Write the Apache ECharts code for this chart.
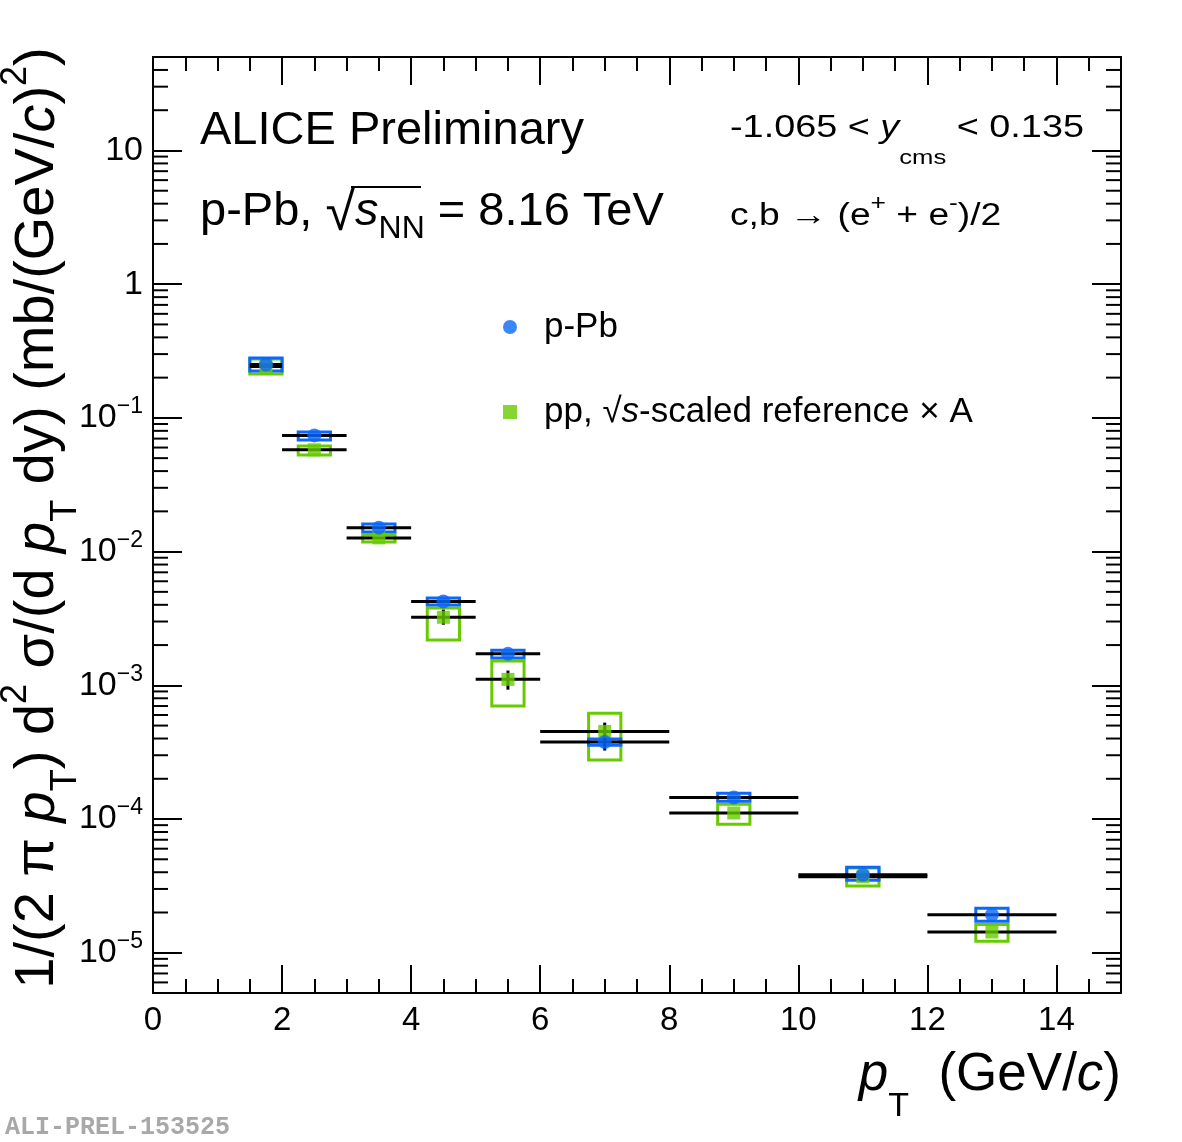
<!DOCTYPE html>
<html>
<head>
<meta charset="utf-8">
<script src="https://cdn.jsdelivr.net/npm/echarts@6/dist/echarts.min.js"></script>
<style>
  html, body { margin: 0; padding: 0; background: #fff; }
  #chart { width: 1182px; height: 1142px; }
</style>
</head>
<body>
<div id="chart"></div>
<script>
// pT bins (GeV/c)
const ptCenter = [1.75, 2.5, 3.5, 4.5, 5.5, 7, 9, 11, 13];
const ptLow    = [1.5, 2, 3, 4, 5, 6, 8, 10, 12];
const ptHigh   = [2, 3, 4, 5, 6, 8, 10, 12, 14];

// p-Pb cross section, mb/(GeV/c)^2
const pPbVal    = [0.251, 0.074, 0.0151, 0.00423, 0.00172, 3.77e-4, 1.45e-4, 3.83e-5, 1.925e-5];
const pPbSysLo  = [0.224, 0.0683, 0.0140, 0.00398, 0.00160, 3.57e-4, 1.36e-4, 3.49e-5, 1.72e-5];
const pPbSysHi  = [0.280, 0.0784, 0.0161, 0.00449, 0.00183, 3.96e-4, 1.56e-4, 4.36e-5, 2.15e-5];
const pPbStatLo = [null, null, null, null, null, 3.25e-4, null, null, null];
const pPbStatHi = [null, null, null, null, null, 4.38e-4, null, null, null];

// pp reference x A
const ppVal    = [0.242, 0.0577, 0.01266, 0.003226, 0.001108, 4.52e-4, 1.11e-4, 3.70e-5, 1.43e-5];
const ppSysLo  = [0.213, 0.0527, 0.0118, 0.00218, 6.99e-4, 2.76e-4, 9.15e-5, 3.15e-5, 1.22e-5];
const ppSysHi  = [0.276, 0.0616, 0.0133, 0.00378, 1.52e-3, 6.19e-4, 1.29e-4, 4.30e-5, 1.63e-5];
const ppStatLo = [null, null, null, 2.84e-3, 9.28e-4, 3.92e-4, null, null, null];
const ppStatHi = [null, null, null, 3.68e-3, 1.29e-3, 5.26e-4, null, null, null];

const X_MIN = 0, X_MAX = 15;
const Y_MIN = 5e-6, Y_MAX = 50;

const FONT = '"Liberation Sans", Arial, sans-serif';
const BLUE = '#0b68fb';
const GREEN = '#66cc00';
const BOX_HALF = 0.25;

// log minor ticks 2..9 x 10^n
const yMinorTicks = [];
for (let e = -6; e <= 1; e++) {
    for (let m = 2; m <= 9; m++) {
        const v = m * Math.pow(10, e);
        if (v > Y_MIN && v < Y_MAX) yMinorTicks.push(v);
    }
}

const chart = echarts.init(document.getElementById('chart'));

function sysBoxes(name, lo, hi, color, z) {
    return {
        type: 'custom', name: name, z: z, silent: true,
        data: ptCenter.map((x, i) => [x, lo[i], hi[i]]),
        encode: { x: 0, y: [1, 2] },
        renderItem: (params, api) => {
            const a = api.coord([api.value(0) - BOX_HALF, api.value(2)]);
            const b = api.coord([api.value(0) + BOX_HALF, api.value(1)]);
            return {
                type: 'rect',
                shape: { x: a[0], y: a[1], width: b[0] - a[0], height: b[1] - a[1] },
                style: { fill: 'none', stroke: color, lineWidth: 3 }
            };
        }
    };
}

function xErrBars(name, vals) {
    return {
        type: 'custom', name: name, z: 5, silent: true,
        data: ptCenter.map((x, i) => [ptLow[i], ptHigh[i], vals[i]]),
        encode: { x: [0, 1], y: 2 },
        renderItem: (params, api) => {
            const a = api.coord([api.value(0), api.value(2)]);
            const b = api.coord([api.value(1), api.value(2)]);
            return {
                type: 'line',
                shape: { x1: a[0], y1: a[1], x2: b[0], y2: b[1] },
                style: { stroke: '#000', lineWidth: 3 }
            };
        }
    };
}

function statBars(name, lo, hi) {
    const data = [];
    ptCenter.forEach((x, i) => { if (lo[i] !== null) data.push([x, lo[i], hi[i]]); });
    return {
        type: 'custom', name: name, z: 5, silent: true,
        data: data,
        encode: { x: 0, y: [1, 2] },
        renderItem: (params, api) => {
            const a = api.coord([api.value(0), api.value(1)]);
            const b = api.coord([api.value(0), api.value(2)]);
            return {
                type: 'line',
                shape: { x1: a[0], y1: a[1], x2: b[0], y2: b[1] },
                style: { stroke: '#000', lineWidth: 3 }
            };
        }
    };
}

const axisLineStyle = { color: '#000', width: 2 };

function xAxisDef(pos, interval, len, main) {
    return {
        type: 'value', position: pos, min: X_MIN, max: X_MAX, interval: interval,
        axisLine: { show: main, onZero: false, lineStyle: axisLineStyle },
        axisTick: { show: true, inside: true, length: len, lineStyle: axisLineStyle },
        axisLabel: {
            show: main && pos === 'bottom',
            fontSize: 33, fontFamily: FONT, color: '#000', margin: 11,
            formatter: v => (v % 2 === 0 ? String(v) : '')
        },
        splitLine: { show: false }
    };
}

function yAxisDef(pos) {
    return {
        type: 'log', logBase: 10, position: pos, min: Y_MIN, max: Y_MAX,
        axisLine: { show: true, onZero: false, lineStyle: axisLineStyle },
        axisTick: { show: true, inside: true, length: 29, lineStyle: axisLineStyle },
        axisLabel: {
            show: pos === 'left',
            margin: 10,
            formatter: v => {
                const e = Math.log10(v);
                const r = Math.round(e);
                if (Math.abs(e - r) > 1e-6) return '';
                if (r >= 0) return '{b|' + Math.round(Math.pow(10, r)) + '}';
                return '{b|10}{sup|\u2212' + (-r) + '}';
            },
            rich: {
                b: { fontSize: 34, fontFamily: FONT, color: '#000' },
                sup: { fontSize: 23, fontFamily: FONT, color: '#000', padding: [0, 0, 22, 0] }
            }
        },
        splitLine: { show: false }
    };
}

const option = {
    animation: false,
    backgroundColor: '#fff',
    grid: { left: 153, right: 61, top: 57, bottom: 149, containLabel: false, outerBoundsMode: 'none' },
    xAxis: [
        xAxisDef('bottom', 2, 28, true),
        xAxisDef('bottom', 0.5, 14, false),
        xAxisDef('top', 2, 28, true),
        xAxisDef('top', 0.5, 14, false)
    ],
    yAxis: [yAxisDef('left'), yAxisDef('right')],
    legend: {
        data: ['p-Pb', 'pp'],
        orient: 'vertical', left: 498, top: 301,
        itemWidth: 14, itemHeight: 14, itemGap: 43,
        selectedMode: false,
        formatter: name => name === 'p-Pb' ? '{a|p-Pb}' : '{a|pp, \u221A}{i|s}{a|-scaled reference \u00D7 A}',
        textStyle: {
            fontSize: 35, fontFamily: FONT, color: '#000', lineHeight: 42,
            rich: {
                a: { fontSize: 35, fontFamily: FONT, color: '#000' },
                i: { fontSize: 35, fontFamily: FONT, fontStyle: 'italic', color: '#000' }
            },
            padding: [0, 0, 0, 22]
        }
    },
    graphic: [
        {
            type: 'text', z: 100,
            style: { x: 200, y: 131, text: 'ALICE Preliminary', font: '47px ' + FONT, fill: '#000', textVerticalAlign: 'middle' }
        },
        {
            type: 'text', z: 100,
            style: {
                x: 200, y: 212, textVerticalAlign: 'middle',
                text: '{a|p-Pb, }{r|\u221A}{i|s}{sub|NN}{a| = 8.16 TeV}',
                rich: {
                    a: { fontSize: 47, fontFamily: FONT, fill: '#000' },
                    r: { fontSize: 54, fontFamily: FONT, fill: '#000', padding: [6, 0, 0, 0] },
                    i: { fontSize: 47, fontFamily: FONT, fontStyle: 'italic', fill: '#000' },
                    sub: { fontSize: 32, fontFamily: FONT, fill: '#000', padding: [34, 0, 0, 0] }
                }
            }
        },
        {
            type: 'line', z: 100,
            shape: { x1: 351, y1: 187, x2: 421, y2: 187 },
            style: { stroke: '#000', lineWidth: 2 }
        },
        {
            type: 'text', z: 100,
            x: 730, y: 128, scaleX: 1.22,
            style: {
                x: 0, y: 0, textVerticalAlign: 'middle',
                text: '{a|-1.065 < }{i|y}{sub|cms}{a| < 0.135}',
                rich: {
                    a: { fontSize: 31, fontFamily: FONT, fill: '#000' },
                    i: { fontSize: 31, fontFamily: FONT, fontStyle: 'italic', fill: '#000' },
                    sub: { fontSize: 21, fontFamily: FONT, fill: '#000', padding: [60, 0, 0, 0] }
                }
            }
        },
        {
            type: 'text', z: 100,
            x: 730, y: 216, scaleX: 1.2,
            style: {
                x: 0, y: 0, textVerticalAlign: 'middle',
                text: '{a|c,b \u2192 (e}{sup|+}{a| + e}{sup|-}{a|)/2}',
                rich: {
                    a: { fontSize: 31, fontFamily: FONT, fill: '#000' },
                    sup: { fontSize: 22, fontFamily: FONT, fill: '#000', padding: [0, 0, 24, 0] }
                }
            }
        },
        {
            type: 'text', z: 100,
            rotation: Math.PI / 2, x: 38, y: 518,
            style: {
                x: 0, y: 0, textAlign: 'center', textVerticalAlign: 'middle',
                text: '{a|1/(2 \u03C0 }{i|p}{sub|T}{a|) d}{sup|2}{a| \u03C3/(d }{i|p}{sub|T}{a| dy) (mb/(GeV/}{i|c}{a|)}{sup|2}{a|)}',
                rich: {
                    a: { fontSize: 56, fontFamily: FONT, fill: '#000' },
                    i: { fontSize: 56, fontFamily: FONT, fontStyle: 'italic', fill: '#000' },
                    sub: { fontSize: 36, fontFamily: FONT, fill: '#000', padding: [56, 0, 0, 0] },
                    sup: { fontSize: 36, fontFamily: FONT, fill: '#000', padding: [0, 0, 44, 0] }
                }
            }
        },
        {
            type: 'text', z: 100,
            style: {
                x: 1121, y: 1075, textAlign: 'right', textVerticalAlign: 'middle',
                text: '{i|p}{sub|T}{a|  (GeV/}{i|c}{a|)}',
                rich: {
                    a: { fontSize: 53, fontFamily: FONT, fill: '#000' },
                    i: { fontSize: 53, fontFamily: FONT, fontStyle: 'italic', fill: '#000' },
                    sub: { fontSize: 34, fontFamily: FONT, fill: '#000', padding: [64, 0, 0, 0] }
                }
            }
        },
        {
            type: 'text', z: 100,
            style: { x: 5, y: 1128, text: 'ALI-PREL-153525', font: 'bold 25px "Liberation Mono", monospace', fill: '#a8a8a8', textVerticalAlign: 'middle' }
        }
    ],
    series: [
        {
            type: 'custom', name: 'yMinor', silent: true, z: 1,
            data: yMinorTicks.map(v => [X_MIN, v]),
            encode: { x: 0, y: 1 },
            renderItem: (params, api) => {
                const l = api.coord([X_MIN, api.value(1)]);
                const r = api.coord([X_MAX, api.value(1)]);
                return {
                    type: 'group',
                    children: [
                        { type: 'line', shape: { x1: l[0], y1: l[1], x2: l[0] + 15, y2: l[1] }, style: { stroke: '#000', lineWidth: 2 } },
                        { type: 'line', shape: { x1: r[0], y1: r[1], x2: r[0] - 15, y2: r[1] }, style: { stroke: '#000', lineWidth: 2 } }
                    ]
                };
            }
        },
        sysBoxes('ppSys', ppSysLo, ppSysHi, GREEN, 2),
        sysBoxes('pPbSys', pPbSysLo, pPbSysHi, BLUE, 3),
        xErrBars('ppX', ppVal),
        xErrBars('pPbX', pPbVal),
        statBars('ppStat', ppStatLo, ppStatHi),
        statBars('pPbStat', pPbStatLo, pPbStatHi),
        {
            type: 'scatter', name: 'pp', z: 10,
            symbol: 'rect', symbolSize: 13,
            itemStyle: { color: GREEN },
            data: ptCenter.map((x, i) => [x, ppVal[i]])
        },
        {
            type: 'scatter', name: 'p-Pb', z: 11,
            symbol: 'circle', symbolSize: 14,
            itemStyle: { color: BLUE },
            data: ptCenter.map((x, i) => [x, pPbVal[i]])
        }
    ]
};

chart.setOption(option);
</script>
</body>
</html>
